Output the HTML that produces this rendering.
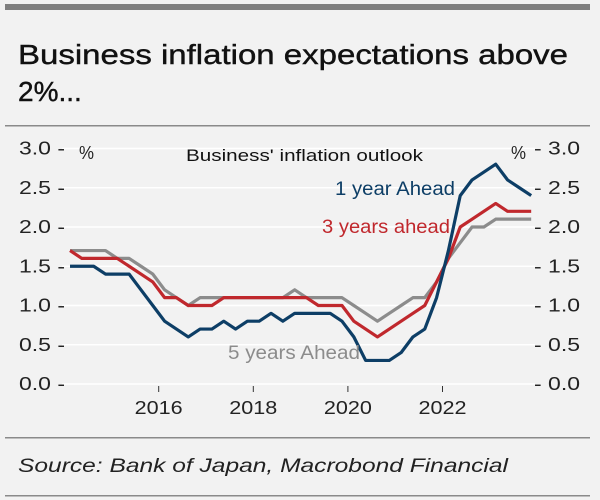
<!DOCTYPE html>
<html><head><meta charset="utf-8"><style>
body{margin:0;background:#f2f2f2;}
svg{display:block;font-family:"Liberation Sans",sans-serif;}
</style></head><body>
<svg width="600" height="500" viewBox="0 0 600 500">
<rect x="0" y="0" width="600" height="500" fill="#f2f2f2"/>
<rect x="5" y="4" width="585" height="6" fill="#7f7f7f"/>
<text x="18" y="64" font-size="28" fill="#111" stroke="#111" stroke-width="0.4" textLength="550" lengthAdjust="spacingAndGlyphs">Business inflation expectations above</text>
<text x="18" y="101" font-size="28" fill="#111" stroke="#111" stroke-width="0.4">2%...</text>
<rect x="5" y="125" width="585" height="1.5" fill="#8a8a8a"/>
<rect x="5" y="437" width="585" height="1.5" fill="#8a8a8a"/>
<rect x="5" y="495" width="585" height="1.5" fill="#8a8a8a"/>
<text x="18" y="472" font-size="19" font-style="italic" fill="#222" textLength="490" lengthAdjust="spacingAndGlyphs">Source: Bank of Japan, Macrobond Financial</text>
<g id="plot"></g>
</svg>
<script>
const yTicks=[0,0.5,1.0,1.5,2.0,2.5,3.0];
const xTickYears=[2016,2018,2020,2022];
const startYear=2014.125;
const oneYear=[1.5,1.5,1.5,1.4,1.4,1.4,1.2,1.0,0.8,0.7,0.6,0.7,0.7,0.8,0.7,0.8,0.8,0.9,0.8,0.9,0.9,0.9,0.9,0.8,0.6,0.3,0.3,0.3,0.4,0.6,0.7,1.1,1.7,2.4,2.6,2.7,2.8,2.6,2.5,2.4];
const threeYear=[1.7,1.6,1.6,1.6,1.6,1.5,1.4,1.3,1.1,1.1,1.0,1.0,1.0,1.1,1.1,1.1,1.1,1.1,1.1,1.1,1.1,1.0,1.0,1.0,0.8,0.7,0.6,0.7,0.8,0.9,1.0,1.3,1.6,2.0,2.1,2.2,2.3,2.2,2.2,2.2];
const fiveYear=[1.7,1.7,1.7,1.7,1.6,1.6,1.5,1.4,1.2,1.1,1.0,1.1,1.1,1.1,1.1,1.1,1.1,1.1,1.1,1.2,1.1,1.1,1.1,1.1,1.0,0.9,0.8,0.9,1.0,1.1,1.1,1.3,1.6,1.8,2.0,2.0,2.1,2.1,2.1,2.1];
const NS='http://www.w3.org/2000/svg';
const g=document.getElementById('plot');
function X(yr){return 158.7+(yr-2016)*47.3;}
function Y(v){return 384-v*78.5;}
function XI(i){return X(startYear+i*0.25);}
function mk(t,a){const e=document.createElementNS(NS,t);for(const k in a)e.setAttribute(k,a[k]);g.appendChild(e);return e;}
yTicks.forEach(v=>{
  const l=mk('line',{x1:62,x2:535,y1:Y(v),y2:Y(v),stroke:'#ffffff','stroke-width':1.5});
  
  
  const t=mk('text',{x:19,y:Y(v)+6,'font-size':18,fill:'#222',textLength:46,lengthAdjust:'spacingAndGlyphs'});
  t.textContent=v.toFixed(1)+' -';
  
  
  const r=mk('text',{x:534,y:Y(v)+6,'font-size':18,fill:'#222',textLength:46,lengthAdjust:'spacingAndGlyphs'});
  r.textContent='- '+v.toFixed(1);
  
  
});
xTickYears.forEach(yr=>{
  const l=mk('line',{x1:X(yr),x2:X(yr),y1:386,y2:392,stroke:'#333','stroke-width':1});
  
  
  const t=mk('text',{x:X(yr)-24,y:414,'font-size':18,fill:'#222',textLength:48,lengthAdjust:'spacingAndGlyphs'});
  t.textContent=yr;
  
  
});
function series(vals,color,name){
  const p=mk('polyline',{points:vals.map((v,i)=>XI(i)+','+Y(v)).join(' '),fill:'none',stroke:color,'stroke-width':3.2,'stroke-linejoin':'round'});
  
  
}
series(fiveYear,'#8c8c8c','line-5-years-ahead');
series(threeYear,'#c0282d','line-3-years-ahead');
series(oneYear,'#0d3e66','line-1-year-ahead');
function label(txt,x,y,color,name,size,len){
  const t=mk('text',{x:x,y:y,'font-size':size,fill:color,textLength:len,lengthAdjust:'spacingAndGlyphs'});
  t.textContent=txt;
  
  
}
label('%',79,159,'#222','left-unit-label',18,15);
label('%',511,159,'#222','right-unit-label',18,15);
label("Business' inflation outlook",186,161,'#111','chart-subtitle',17,237);
label('1 year Ahead',335,195,'#0d3e66','label-1-year-ahead',19,120);
label('3 years ahead',322,233,'#c0282d','label-3-years-ahead',19,128);
label('5 years Ahead',228,359,'#8c8c8c','label-5-years-ahead',19,132);
</script>
</body></html>
